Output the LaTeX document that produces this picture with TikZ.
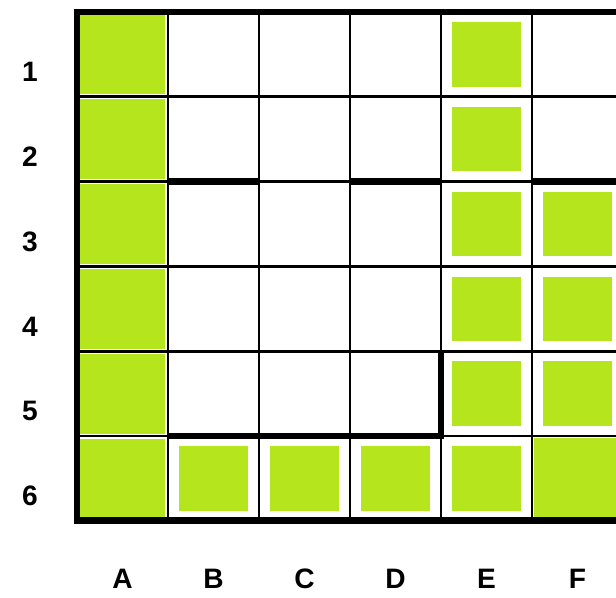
\documentclass[tikz,border=0pt]{standalone}
\usepackage{fontspec}
\setmainfont{Liberation Sans}
\definecolor{lime}{RGB}{181,230,29}
\tikzset{
  thinline/.style={line width=2pt},
  thickline/.style={line width=4.8pt},
  lab/.style={font=\fontsize{20}{24}\selectfont\bfseries}
}
\begin{document}
\begin{tikzpicture}[x=2.275cm,y=-2.12cm]
  \useasboundingbox (-0.846,-0.142) rectangle (5.923,6.907);
  \clip (-0.846,-0.142) rectangle (5.923,6.907);
  % column A
  \foreach \r in {0,...,5}
    \fill[lime] (0.03,\r+0.03) rectangle (0.97,\r+0.97);
  % inner squares
  \foreach \c/\r in {4/0,4/1,4/2,5/2,4/3,5/3,4/4,5/4,1/5,2/5,3/5,4/5}
    \fill[lime] (\c+0.12,\r+0.12) rectangle (\c+0.88,\r+0.88);
  \fill[lime] (5.02,5.02) rectangle (5.98,5.98);
  % grid
  \foreach \i in {1,...,6} {
    \draw[thinline] (\i,0) -- (\i,6);
    \draw[thinline] (0,\i) -- (6,\i);
  }
  % walls
  \draw[thickline] (6,0) -- (0,0) -- (0,6) -- (6,6);
  \draw[thickline] (1,2) -- (2,2);
  \draw[thickline] (3,2) -- (4,2);
  \draw[thickline] (5,2) -- (6,2);
  \draw[thickline] (1,5) -- (4,5) -- (4,4);
  % labels
  \foreach \n [count=\r from 0] in {1,...,6}
    \node[lab] (row\n) at (-0.516,\r+0.71) {\n};
  \foreach \l [count=\c from 0] in {A,B,C,D,E,F}
    \node[lab] (col\l) at (\c+0.5,6.68) {\l};
\end{tikzpicture}
\end{document}
